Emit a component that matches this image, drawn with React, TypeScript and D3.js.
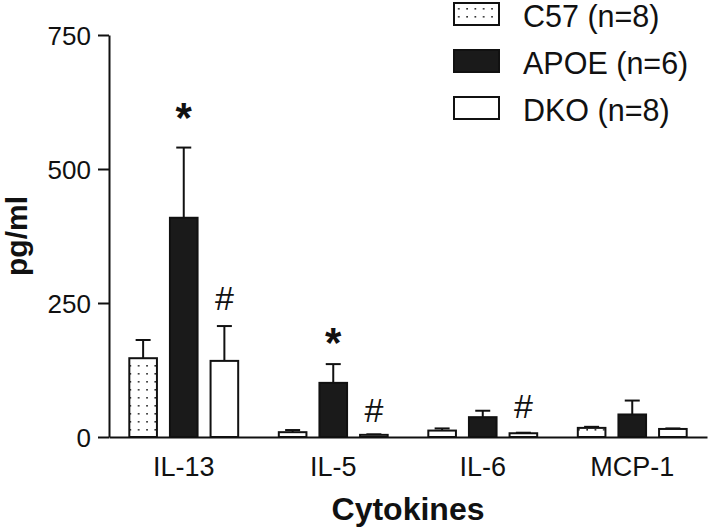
import { useEffect, useRef } from 'react';
import * as d3 from 'd3';

const categories = ['IL-13', 'IL-5', 'IL-6', 'MCP-1'];
const seriesNames = ['C57 (n=8)', 'APOE (n=6)', 'DKO (n=8)'];
const c57Means = [147, 9, 12, 17];
const c57Errors = [34, 4, 4, 2];
const apoeMeans = [409, 101, 37, 42];
const apoeErrors = [131, 35, 12, 26];
const dkoMeans = [142, 4, 7, 15];
const dkoErrors = [65, 1, 1, 1];
const yTicks = [0, 250, 500, 750];

// significance marks: category, series index, symbol, level (pg/ml) of the symbol centre
const markCategories = ['IL-13', 'IL-13', 'IL-5', 'IL-5', 'IL-6'];
const markSeries = [1, 2, 1, 2, 2];
const markSymbols = ['*', '#', '*', '#', '#'];
const markLevels = [606, 259, 186, 50, 58];

const FONT = '"Liberation Sans", Arial, sans-serif';

export default function App() {
  const svgRef = useRef<SVGSVGElement>(null);

  useEffect(() => {
    const width = 715;
    const height = 528;
    const svg = d3.select(svgRef.current).attr('width', width).attr('height', height);
    svg.selectAll('*').remove();

    const left = 109, right = 707, top = 35, bottom = 437;

    const rows = categories.map((c, i) => ({
      category: c,
      values: [
        { s: 0, mean: c57Means[i], err: c57Errors[i] },
        { s: 1, mean: apoeMeans[i], err: apoeErrors[i] },
        { s: 2, mean: dkoMeans[i], err: dkoErrors[i] },
      ],
    }));

    const x0 = d3.scaleBand().domain(categories).range([left, right]).padding(0);
    const x1 = d3.scaleBand<number>()
      .domain([0, 1, 2])
      .range([0, x0.bandwidth()])
      .paddingInner(0.32)
      .paddingOuter(0.5);
    const y = d3.scaleLinear().domain([0, 750]).range([bottom, top]);

    const defs = svg.append('defs');
    const pat = defs.append('pattern')
      .attr('id', 'dots')
      .attr('patternUnits', 'userSpaceOnUse')
      .attr('width', 8.3)
      .attr('height', 8)
      .attr('x', 1)
      .attr('y', 2);
    pat.append('rect').attr('width', 8.3).attr('height', 8).attr('fill', 'white');
    pat.append('rect').attr('x', 3).attr('y', 3).attr('width', 1.6).attr('height', 1.6).attr('fill', '#222');

    const fills = ['url(#dots)', '#1a1a1a', 'white'];

    const groups = svg.selectAll('.grp')
      .data(rows)
      .join('g')
      .attr('class', 'grp')
      .attr('transform', d => `translate(${x0(d.category)},0)`);

    // error bars (upper only)
    groups.selectAll('.err')
      .data(d => d.values)
      .join('g')
      .attr('class', 'err')
      .each(function (d) {
        const g = d3.select(this);
        const cx = (x1(d.s) as number) + x1.bandwidth() / 2;
        g.append('line')
          .attr('x1', cx).attr('x2', cx)
          .attr('y1', y(d.mean)).attr('y2', y(d.mean + d.err))
          .attr('stroke', '#111').attr('stroke-width', 2);
        g.append('line')
          .attr('x1', cx - 7.5).attr('x2', cx + 7.5)
          .attr('y1', y(d.mean + d.err)).attr('y2', y(d.mean + d.err))
          .attr('stroke', '#111').attr('stroke-width', 2);
      });

    groups.selectAll('rect')
      .data(d => d.values)
      .join('rect')
      .attr('x', d => x1(d.s) as number)
      .attr('y', d => y(d.mean))
      .attr('width', x1.bandwidth())
      .attr('height', d => y(0) - y(d.mean))
      .attr('fill', d => fills[d.s])
      .attr('stroke', '#111')
      .attr('stroke-width', 2);

    // significance marks
    markSymbols.forEach((sym, i) => {
      const cx = (x0(markCategories[i]) as number) + (x1(markSeries[i]) as number) + x1.bandwidth() / 2;
      const fs = sym === '*' ? 42 : 34;
      const off = sym === '*' ? 0.46 : 0.36;
      svg.append('text')
        .attr('x', cx)
        .attr('y', y(markLevels[i]) + off * fs)
        .attr('text-anchor', 'middle')
        .attr('font-family', FONT)
        .attr('font-size', fs)
        .attr('font-weight', sym === '*' ? 'bold' : 'normal')
        .attr('fill', '#111')
        .text(sym);
    });

    // y axis
    const yAxis = svg.append('g')
      .attr('transform', `translate(${left},0)`)
      .call(d3.axisLeft(y).tickValues(yTicks).tickSize(11).tickSizeOuter(0).tickPadding(7));
    yAxis.select('.domain').attr('stroke', '#111').attr('stroke-width', 2);
    yAxis.selectAll('.tick line').attr('stroke', '#111').attr('stroke-width', 2);
    yAxis.selectAll('.tick text')
      .attr('font-family', FONT)
      .attr('font-size', 26)
      .attr('fill', '#111')
      .attr('dy', '0.36em');

    // x axis
    const xAxis = svg.append('g')
      .attr('transform', `translate(0,${bottom})`)
      .call(d3.axisBottom(x0).tickSize(0).tickSizeOuter(0).tickPadding(20));
    xAxis.select('.domain').attr('stroke', '#111').attr('stroke-width', 2);
    xAxis.selectAll('.tick text')
      .attr('font-family', FONT)
      .attr('font-size', 27)
      .attr('fill', '#111');

    svg.append('text')
      .attr('x', (left + right) / 2)
      .attr('y', 520)
      .attr('text-anchor', 'middle')
      .attr('font-family', FONT)
      .attr('font-size', 32)
      .attr('font-weight', 'bold')
      .attr('fill', '#111')
      .text('Cytokines');

    svg.append('text')
      .attr('transform', 'rotate(-90)')
      .attr('x', -(top + bottom) / 2)
      .attr('y', 27)
      .attr('text-anchor', 'middle')
      .attr('font-family', FONT)
      .attr('font-size', 30)
      .attr('font-weight', 'bold')
      .attr('fill', '#111')
      .text('pg/ml');

    // legend
    const legend = svg.selectAll('.legend')
      .data(seriesNames)
      .join('g')
      .attr('class', 'legend')
      .attr('transform', (_d, i) => `translate(454,${3 + i * 47})`);
    legend.append('rect')
      .attr('width', 45)
      .attr('height', 22)
      .attr('fill', (_d, i) => fills[i])
      .attr('stroke', '#111')
      .attr('stroke-width', 2);
    legend.append('text')
      .attr('x', 69)
      .attr('y', 23.5)
      .attr('font-family', FONT)
      .attr('font-size', 30.5)
      .attr('fill', '#111')
      .text(d => d);
  }, []);

  return (
    <svg ref={svgRef} style={{ position: 'absolute', left: 0, top: 0, background: 'white' }}></svg>
  );
}
